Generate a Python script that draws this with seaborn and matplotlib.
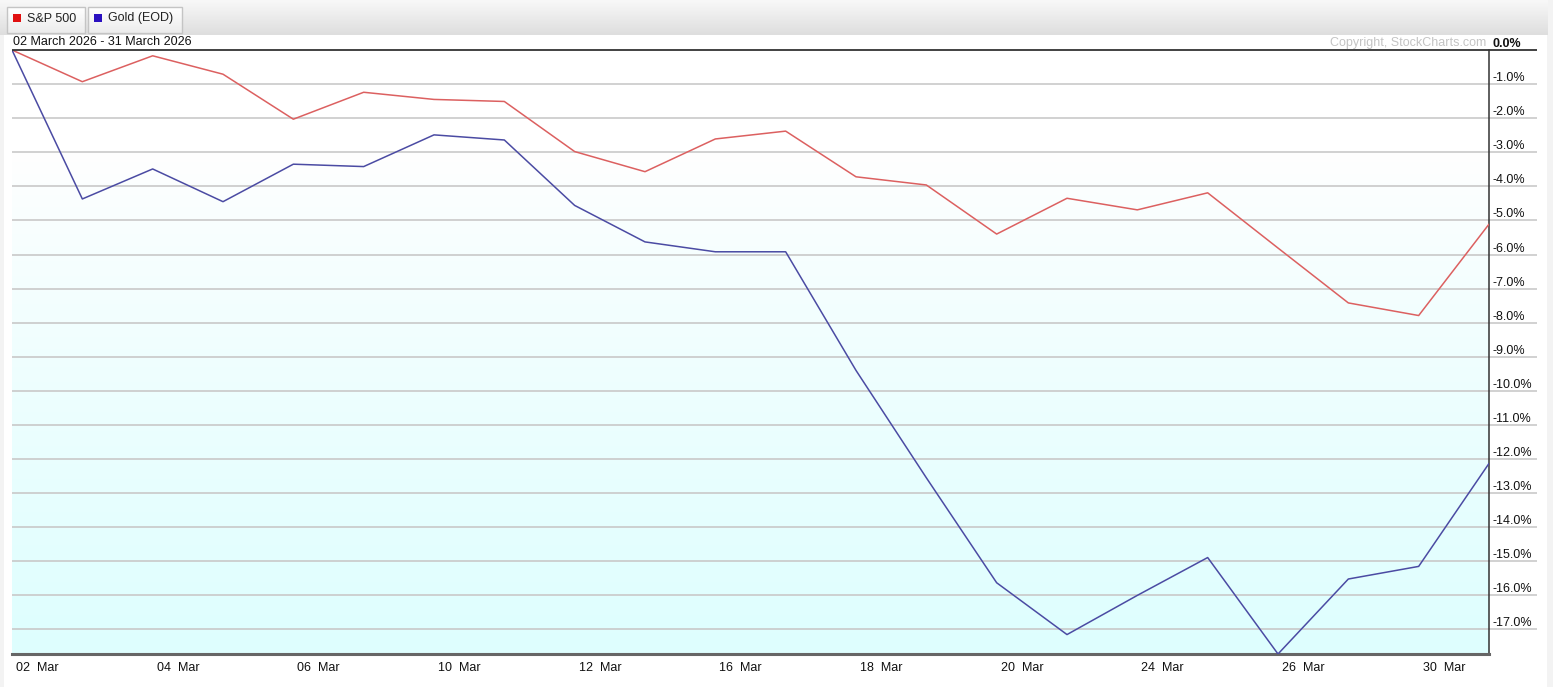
import numpy as np
import pandas as pd
import seaborn as sns
import matplotlib.pyplot as plt
import matplotlib.transforms as mtransforms
from matplotlib.colors import LinearSegmentedColormap
from matplotlib.patches import Rectangle

# Data: % change since 02 March 2026, one value per trading day
days = ['02', '03', '04', '05', '06', '09', '10', '11', '12', '13', '16',
        '17', '18', '19', '20', '23', '24', '25', '26', '27', '30', '31']
sp500 = [0.00, -0.93, -0.17, -0.71, -2.03, -1.24, -1.45, -1.51, -2.98, -3.57, -2.61,
         -2.38, -3.72, -3.96, -5.40, -4.35, -4.69, -4.19, -5.81, -7.42, -7.79, -5.11]
gold = [0.00, -4.37, -3.49, -4.45, -3.35, -3.42, -2.49, -2.64, -4.56, -5.63, -5.92,
        -5.92, -9.40, -12.55, -15.63, -17.15, -16.00, -14.89, -17.72, -15.52, -15.15, -12.13]
tick_days = ['02', '04', '06', '10', '12', '16', '18', '20', '24', '26', '30']
y_ticks = [0, -1, -2, -3, -4, -5, -6, -7, -8, -9, -10, -11, -12, -13, -14, -15, -16, -17]
series_names = ['S&P 500', 'Gold (EOD)']
line_colors = {'S&P 500': '#dc6060', 'Gold (EOD)': '#4b4ba3'}
legend_colors = ['#e01010', '#2a10c0']

df = pd.DataFrame({
    'pos': list(range(len(days))) * 2,
    'pct': sp500 + gold,
    'series': [series_names[0]] * len(days) + [series_names[1]] * len(days),
})

sns.set_style('white')
plt.rcParams['font.family'] = ['Liberation Sans', 'DejaVu Sans']
FS = 9.0

W, H = 1553, 687
fig = plt.figure(figsize=(W / 100, H / 100), dpi=100, facecolor='#f3f3f3')

# background layer in pixel coordinates
bg = fig.add_axes([0, 0, 1, 1], zorder=0)
bg.set_xlim(0, W)
bg.set_ylim(H, 0)
bg.axis('off')
bg.add_patch(Rectangle((4, 35), 1543, H - 35, facecolor='white', edgecolor='none'))
head = np.linspace(0, 1, 50).reshape(-1, 1)
head_cmap = LinearSegmentedColormap.from_list('head', ['#f8f8f8', '#dedede'])
bg.imshow(head, extent=(0, 1548, 35, 0), aspect='auto', cmap=head_cmap)
btn_cmap = LinearSegmentedColormap.from_list('btn', ['#ffffff', '#ececec'])
for (x0, x1), name, col in zip([(7, 85), (88, 182)], series_names, legend_colors):
    bg.imshow(head, extent=(x0, x1, 33, 7), aspect='auto', cmap=btn_cmap)
    bg.add_patch(Rectangle((x0, 7), x1 - x0, 26, facecolor='none', edgecolor='#c4c4c4', lw=1))
    bg.add_patch(Rectangle((x0 + 6, 14), 8, 8, facecolor=col, edgecolor='none'))
    bg.text(x0 + 20, 18.5, name, fontsize=FS, va='center', ha='left', color='#222222')
bg.text(13, 42, '02 March 2026 - 31 March 2026', fontsize=FS, va='center', ha='left', color='#111111')
bg.text(1486, 43, 'Copyright, StockCharts.com', fontsize=FS, va='center', ha='right', color='#c4c4c4')
bg.set_xlim(0, W)
bg.set_ylim(H, 0)

# main chart
L, R, T, B = 12, 1489, 50, 654
ax = fig.add_axes([L / W, 1 - B / H, (R - L) / W, (B - T) / H], zorder=1)
ax.patch.set_alpha(0)

ymin, ymax = min(gold + sp500), 0.0
grad_y = np.linspace(ymax, ymin, 200)
t = np.clip((-grad_y - 3.0) / (-ymin - 3.0), 0, 1) ** 0.85
fill_cmap = LinearSegmentedColormap.from_list('fill', ['#ffffff', '#defefe'])
ax.imshow(t.reshape(-1, 1), extent=(0, len(days) - 1, ymin, ymax), aspect='auto',
          cmap=fill_cmap, vmin=0, vmax=1, zorder=0)

sns.lineplot(data=df, x='pos', y='pct', hue='series', palette=line_colors,
             linewidth=1.1, legend=False, ax=ax, zorder=3)

ax.set_xlim(0, len(days) - 1)
ax.set_ylim(ymin, ymax)
ax.set_xlabel('')
ax.set_ylabel('')

# horizontal grid running out under the right-hand labels
ext = (1537 - L) / (R - L)
ax.hlines([v for v in y_ticks if v != 0], 0, ext, transform=ax.get_yaxis_transform(),
          colors='#c9c9c9', lw=1.2, clip_on=False, zorder=1)
ax.hlines([0], 0, ext, transform=ax.get_yaxis_transform(),
          colors='#333333', lw=1.3, clip_on=False, zorder=4)

for s in ['top', 'left']:
    ax.spines[s].set_visible(False)
ax.spines['right'].set_color('#333333')
ax.spines['right'].set_linewidth(1.1)
ax.spines['bottom'].set_color('#666666')
ax.spines['bottom'].set_linewidth(2.2)

# y labels on the right, sitting just above their grid lines
ax.yaxis.tick_right()
ax.set_yticks(y_ticks)
ax.set_yticklabels([f'{v:.1f}%' for v in y_ticks])
ax.tick_params(axis='y', length=0, pad=2.5, labelsize=FS, labelcolor='#111111')
for lab in ax.get_yticklabels():
    lab.set_verticalalignment('bottom')
ax.get_yticklabels()[0].set_fontweight('bold')

# x labels to the right of long light tick marks
ax.set_xticks([days.index(d) for d in tick_days])
ax.set_xticklabels([f'{d}  Mar' for d in tick_days])
ax.tick_params(axis='x', length=19, width=1, color='#d6d6d6', direction='out',
               pad=-13.2, labelsize=FS, labelcolor='#111111')
shift = mtransforms.ScaledTranslation(4 / 100, 0, fig.dpi_scale_trans)
for lab in ax.get_xticklabels():
    lab.set_horizontalalignment('left')
    lab.set_transform(lab.get_transform() + shift)

fig.savefig('out.png', dpi=100, facecolor=fig.get_facecolor())
